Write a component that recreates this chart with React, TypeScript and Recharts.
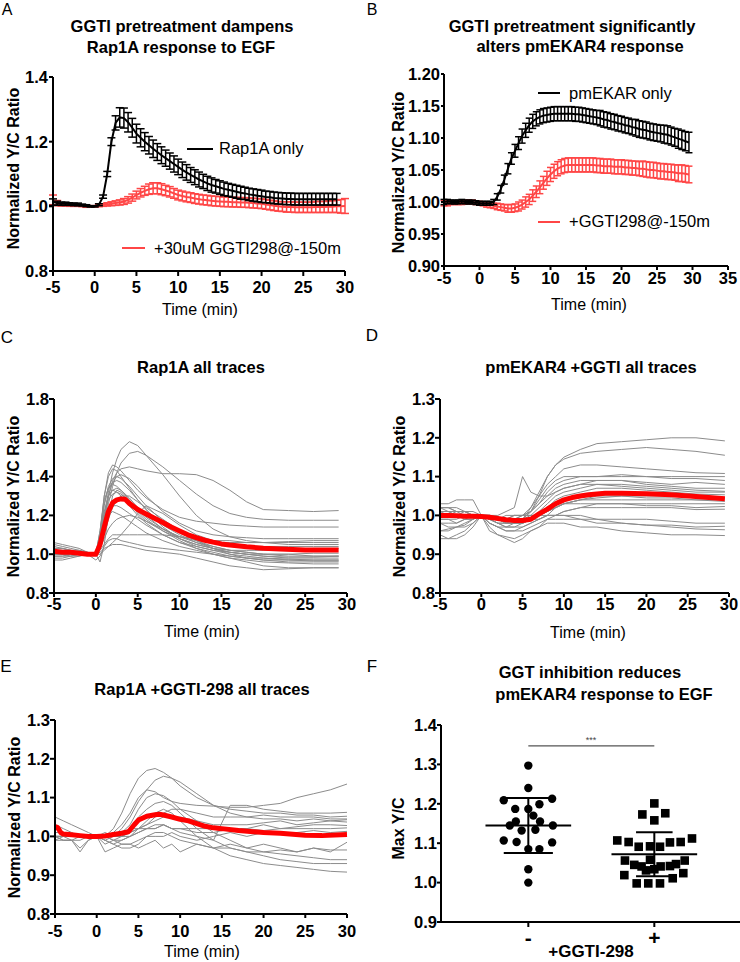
import React from 'react';
import { LineChart, Line, XAxis, YAxis, ErrorBar, ScatterChart, Scatter, ReferenceLine } from 'recharts';

const FONT = '"Liberation Sans", Arial, Helvetica, sans-serif';
const RED_SEM = '#ff4646';
const RED_MEAN = '#ff0000';
const GREY = '#8c8c8c';

// ---------- Panel A & B: time points (min) ----------
const tHalf = [-5, -4.5, -4, -3.5, -3, -2.5, -2, -1.5, -1, -0.5, 0, 0.5, 1, 1.5, 2, 2.5, 3, 3.5, 4, 4.5, 5, 5.5, 6, 6.5, 7, 7.5, 8, 8.5, 9, 9.5, 10, 10.5, 11, 11.5, 12, 12.5, 13, 13.5, 14, 14.5, 15, 15.5, 16, 16.5, 17, 17.5, 18, 18.5, 19, 19.5, 20, 20.5, 21, 21.5, 22, 22.5, 23, 23.5, 24, 24.5, 25, 25.5, 26, 26.5, 27, 27.5, 28, 28.5, 29, 29.5, 30];

// Panel A: Rap1A only (mean, SEM)
const aRap1A = [1.013, 1.01, 1.008, 1.008, 1.007, 1.006, 1.006, 1.004, 1.002, 1.0, 1.0,
  1.005, 1.03, 1.1, 1.2, 1.258, 1.275, 1.273, 1.26, 1.243,
  1.225, 1.212, 1.2, 1.189, 1.178, 1.168, 1.158, 1.149, 1.14, 1.131,
  1.122, 1.113, 1.105, 1.097, 1.09, 1.083, 1.077, 1.071, 1.066, 1.062,
  1.058, 1.054, 1.051, 1.048, 1.045, 1.042, 1.04, 1.037, 1.035, 1.033,
  1.031, 1.029, 1.028, 1.026, 1.025, 1.024, 1.023, 1.023,
  1.022, 1.022, 1.022, 1.022, 1.022, 1.022, 1.022, 1.022, 1.022, 1.022, 1.022];
const aRap1AErr = [0.01, 0.006, 0.005, 0.005, 0.004, 0.004, 0.004, 0.003, 0.003, 0.002, 0.002,
  0.003, 0.005, 0.008, 0.012, 0.022, 0.03, 0.031, 0.03, 0.029,
  0.029, 0.028, 0.028, 0.027, 0.027, 0.026, 0.026, 0.025, 0.025, 0.025,
  0.024, 0.024, 0.024, 0.023, 0.023, 0.023, 0.022, 0.022, 0.022, 0.021,
  0.021, 0.021, 0.02, 0.02, 0.02, 0.02, 0.019, 0.019, 0.019, 0.019,
  0.019, 0.018, 0.018, 0.018, 0.018, 0.018, 0.018, 0.018,
  0.018, 0.018, 0.018, 0.018, 0.018, 0.018, 0.018, 0.018, 0.018, 0.018, 0.018];
// Panel A: +30uM GGTI298
const aGgti = [1.02, 1.01, 1.006, 1.005, 1.004, 1.004, 1.003, 1.002, 1.0, 1.0, 1.0,
  1.002, 1.004, 1.006, 1.008, 1.01, 1.012, 1.015, 1.02, 1.027, 1.035,
  1.042, 1.048, 1.053, 1.056, 1.056, 1.053, 1.049, 1.045, 1.04, 1.035,
  1.032, 1.029, 1.027, 1.024, 1.022, 1.02, 1.019, 1.017, 1.016, 1.015,
  1.014, 1.014, 1.013, 1.013, 1.012, 1.012, 1.011, 1.01, 1.009, 1.008,
  1.006, 1.004, 1.002, 1.0, 0.999, 0.998, 0.998, 0.997, 0.997, 0.997,
  0.997, 0.997, 0.998, 0.998, 0.998, 0.999, 0.999, 1.0, 1.0, 1.001];
const aGgtiErr = [0.015, 0.008, 0.005, 0.004, 0.004, 0.004, 0.003, 0.003, 0.003, 0.002, 0.002,
  0.003, 0.004, 0.005, 0.006, 0.007, 0.008, 0.009, 0.01, 0.011, 0.012,
  0.013, 0.014, 0.016, 0.017, 0.017, 0.017, 0.016, 0.016, 0.015, 0.015,
  0.015, 0.015, 0.015, 0.015, 0.015, 0.015, 0.015, 0.015, 0.015, 0.015,
  0.015, 0.015, 0.015, 0.015, 0.015, 0.015, 0.015, 0.015, 0.015, 0.015,
  0.015, 0.015, 0.015, 0.015, 0.015, 0.016, 0.016, 0.016, 0.016, 0.016,
  0.016, 0.016, 0.017, 0.017, 0.017, 0.018, 0.018, 0.019, 0.021, 0.023];

// Panel B: pmEKAR only
const bPmekar = [1.0, 1.001, 1.0, 1.0, 1.0, 1.001, 1.0, 1.0, 1.0, 0.999, 0.998,
  0.998, 0.998, 0.998, 1.0, 1.008, 1.02, 1.035, 1.052, 1.068, 1.08,
  1.092, 1.103, 1.112, 1.12, 1.126, 1.13, 1.133, 1.135, 1.136, 1.137,
  1.138, 1.138, 1.138, 1.138, 1.138, 1.138, 1.137, 1.137, 1.136, 1.135,
  1.134, 1.133, 1.132, 1.131, 1.129, 1.128, 1.126, 1.125, 1.123, 1.122,
  1.12, 1.119, 1.117, 1.116, 1.114, 1.113, 1.112, 1.11, 1.109, 1.108,
  1.107, 1.106, 1.105, 1.103, 1.101, 1.099, 1.097, 1.095, 1.093];
const bPmekarErr = [0.004, 0.003, 0.003, 0.003, 0.003, 0.003, 0.003, 0.003, 0.003, 0.003, 0.003,
  0.003, 0.003, 0.003, 0.004, 0.005, 0.006, 0.007, 0.008, 0.009, 0.01,
  0.01, 0.011, 0.011, 0.011, 0.011, 0.011, 0.011, 0.011, 0.011, 0.011,
  0.011, 0.011, 0.011, 0.011, 0.011, 0.011, 0.011, 0.011, 0.011, 0.011,
  0.011, 0.011, 0.011, 0.012, 0.012, 0.012, 0.012, 0.012, 0.012, 0.012,
  0.012, 0.012, 0.012, 0.013, 0.013, 0.013, 0.013, 0.013, 0.013, 0.013,
  0.013, 0.014, 0.014, 0.014, 0.014, 0.015, 0.015, 0.015, 0.016];
// Panel B: +GGTI298
const bGgti = [0.998, 0.998, 0.999, 0.999, 0.999, 0.999, 1.0, 1.0, 1.0, 0.999, 0.998,
  0.997, 0.996, 0.995, 0.994, 0.993, 0.992, 0.991, 0.99, 0.99, 0.991,
  0.993, 0.996, 1.0, 1.004, 1.01, 1.016, 1.023, 1.03, 1.037, 1.043,
  1.048, 1.052, 1.055, 1.057, 1.058, 1.058, 1.058, 1.058, 1.058, 1.058,
  1.058, 1.058, 1.057, 1.057, 1.056, 1.056, 1.056, 1.055, 1.055, 1.055,
  1.054, 1.054, 1.053, 1.053, 1.052, 1.052, 1.051, 1.05, 1.05, 1.049,
  1.048, 1.048, 1.047, 1.047, 1.046, 1.045, 1.045, 1.044, 1.043];
const bGgtiErr = [0.004, 0.004, 0.003, 0.003, 0.003, 0.003, 0.003, 0.003, 0.003, 0.003, 0.003,
  0.003, 0.004, 0.004, 0.004, 0.005, 0.005, 0.005, 0.006, 0.006, 0.006,
  0.007, 0.007, 0.008, 0.008, 0.009, 0.009, 0.01, 0.01, 0.011, 0.011,
  0.011, 0.011, 0.011, 0.011, 0.011, 0.011, 0.011, 0.011, 0.011, 0.011,
  0.011, 0.011, 0.011, 0.011, 0.011, 0.011, 0.011, 0.011, 0.011, 0.011,
  0.011, 0.011, 0.011, 0.011, 0.011, 0.012, 0.012, 0.012, 0.012, 0.012,
  0.012, 0.012, 0.012, 0.012, 0.012, 0.013, 0.013, 0.013, 0.013];

// ---------- Panel C: Rap1A all traces ----------
const tC = [-5, -4, -3, -2, -1, 0, 0.5, 1, 1.5, 2, 2.5, 3, 4, 5, 6, 8, 10, 12, 14, 16, 18, 20, 23, 26, 29];
const cTraces = [
  [1.02, 1.02, 1.01, 1.01, 1.0, 1.0, 1.08, 1.2, 1.32, 1.42, 1.49, 1.54, 1.58, 1.56, 1.51, 1.41, 1.30, 1.20, 1.13, 1.09, 1.07, 1.06, 1.05, 1.05, 1.05],
  [1.04, 1.03, 1.02, 1.01, 1.0, 1.0, 1.05, 1.15, 1.26, 1.35, 1.42, 1.47, 1.52, 1.53, 1.51, 1.45, 1.38, 1.31, 1.25, 1.21, 1.19, 1.18, 1.175, 1.175, 1.175],
  [1.01, 1.01, 1.0, 1.0, 1.0, 1.0, 1.06, 1.18, 1.3, 1.38, 1.42, 1.44, 1.45, 1.44, 1.43, 1.415, 1.415, 1.41, 1.38, 1.33, 1.27, 1.23, 1.225, 1.22, 1.225],
  [1.0, 1.0, 1.0, 1.0, 1.0, 1.0, 1.1, 1.3, 1.42, 1.46, 1.45, 1.43, 1.38, 1.33, 1.29, 1.23, 1.19, 1.17, 1.16, 1.15, 1.145, 1.14, 1.14, 1.14, 1.14],
  [1.05, 1.04, 1.03, 1.02, 1.01, 1.0, 1.12, 1.3, 1.4, 1.44, 1.43, 1.4, 1.34, 1.28, 1.23, 1.15, 1.1, 1.06, 1.03, 1.01, 1.0, 0.99, 0.98, 0.98, 0.98],
  [1.0, 1.0, 1.0, 1.0, 1.0, 1.0, 1.08, 1.25, 1.35, 1.39, 1.4, 1.39, 1.35, 1.3, 1.25, 1.17, 1.11, 1.07, 1.04, 1.02, 1.01, 1.0, 1.0, 0.99, 0.99],
  [1.06, 1.05, 1.04, 1.03, 1.01, 1.0, 1.1, 1.26, 1.34, 1.37, 1.38, 1.37, 1.33, 1.28, 1.23, 1.14, 1.08, 1.04, 1.02, 1.0, 0.99, 0.98, 0.97, 0.97, 0.97],
  [0.98, 0.98, 0.99, 1.0, 1.0, 1.0, 1.12, 1.28, 1.34, 1.36, 1.35, 1.33, 1.28, 1.23, 1.19, 1.13, 1.09, 1.07, 1.06, 1.06, 1.06, 1.06, 1.065, 1.07, 1.07],
  [1.0, 1.01, 1.01, 1.01, 1.0, 1.0, 1.06, 1.2, 1.3, 1.33, 1.34, 1.33, 1.29, 1.24, 1.2, 1.13, 1.08, 1.05, 1.03, 1.02, 1.02, 1.02, 1.02, 1.03, 1.03],
  [1.03, 1.03, 1.02, 1.01, 1.0, 1.0, 1.08, 1.2, 1.28, 1.31, 1.32, 1.31, 1.27, 1.22, 1.18, 1.12, 1.07, 1.03, 1.0, 0.98, 0.97, 0.96, 0.955, 0.95, 0.95],
  [1.0, 1.0, 0.99, 0.99, 1.0, 1.0, 1.03, 1.1, 1.18, 1.24, 1.28, 1.3, 1.3, 1.27, 1.24, 1.18, 1.12, 1.07, 1.03, 1.0, 0.98, 0.97, 0.97, 0.965, 0.965],
  [1.01, 1.01, 1.0, 1.0, 1.0, 1.0, 1.06, 1.16, 1.22, 1.25, 1.25, 1.24, 1.21, 1.18, 1.15, 1.1, 1.06, 1.03, 1.01, 0.99, 0.98, 0.97, 0.96, 0.96, 0.96],
  [0.97, 0.97, 0.98, 0.99, 1.0, 1.0, 1.05, 1.14, 1.2, 1.22, 1.21, 1.2, 1.17, 1.14, 1.11, 1.07, 1.04, 1.02, 1.0, 0.98, 0.96, 0.94, 0.93, 0.93, 0.93],
  [1.02, 1.01, 1.01, 1.0, 1.0, 1.0, 1.0, 1.02, 1.04, 1.06, 1.08, 1.1, 1.15, 1.21, 1.25, 1.21, 1.15, 1.1, 1.07, 1.05, 1.04, 1.04, 1.04, 1.04, 1.04],
  [0.99, 0.99, 1.0, 1.0, 1.0, 1.0, 1.03, 1.08, 1.13, 1.16, 1.18, 1.19, 1.2, 1.19, 1.17, 1.13, 1.09, 1.06, 1.04, 1.02, 1.01, 1.0, 0.99, 0.99, 0.99],
  [1.0, 1.0, 1.0, 1.0, 1.0, 1.0, 1.02, 1.05, 1.08, 1.1, 1.1, 1.1, 1.1, 1.1, 1.1, 1.1, 1.09, 1.08, 1.07, 1.07, 1.06, 1.06, 1.06, 1.06, 1.06],
  [1.0, 1.0, 1.0, 1.0, 1.0, 1.0, 1.01, 1.03, 1.04, 1.05, 1.05, 1.05, 1.04, 1.03, 1.02, 1.01, 1.0, 0.98, 0.96, 0.94, 0.93, 0.92, 0.925, 0.93, 0.93],
  [1.02, 1.02, 1.01, 1.01, 1.0, 0.97, 0.99, 1.04, 1.07, 1.08, 1.08, 1.07, 1.06, 1.05, 1.04, 1.03, 1.02, 1.01, 1.0, 0.99, 0.98, 0.98, 0.975, 0.97, 0.97],
  [1.03, 1.03, 1.02, 1.02, 1.01, 1.0, 0.96, 1.05, 1.2, 1.3, 1.33, 1.32, 1.27, 1.21, 1.17, 1.12, 1.08, 1.05, 1.03, 1.01, 1.0, 0.99, 0.985, 0.985, 0.99],
  [1.0, 1.0, 1.0, 1.0, 1.0, 1.0, 1.05, 1.17, 1.3, 1.37, 1.4, 1.41, 1.39, 1.35, 1.3, 1.22, 1.16, 1.12, 1.1, 1.09, 1.085, 1.08, 1.08, 1.08, 1.08],
  [0.99, 0.99, 0.99, 1.0, 1.0, 1.0, 1.08, 1.22, 1.3, 1.33, 1.32, 1.3, 1.25, 1.2, 1.16, 1.1, 1.06, 1.04, 1.02, 1.01, 1.0, 1.0, 1.0, 1.005, 1.005],
];
const tCMean = [-5, -4, -3, -2, -1, 0, 0.5, 1, 1.5, 2, 2.5, 3, 3.5, 4, 5, 6, 7, 8, 9, 10, 11, 12, 13, 14, 15, 16, 18, 20, 22, 25, 29];
const cMean = [1.015, 1.01, 1.01, 1.005, 1.0, 1.0, 1.05, 1.14, 1.22, 1.265, 1.28, 1.285, 1.283, 1.262, 1.23, 1.207, 1.185, 1.163, 1.14, 1.12, 1.1, 1.085, 1.072, 1.062, 1.053, 1.047, 1.038, 1.031, 1.027, 1.022, 1.022];

// ---------- Panel D: pmEKAR4 +GGTI all traces ----------
const tD = [-5, -4, -3, -2, -1, 0, 1, 2, 3, 4, 5, 6, 7, 8, 9, 10, 12, 14, 17, 20, 23, 26, 29.5];
const dTraces = [
  [1.01, 1.01, 1.0, 1.01, 1.0, 1.0, 0.99, 0.99, 0.98, 0.98, 0.99, 1.01, 1.05, 1.1, 1.13, 1.15, 1.17, 1.185, 1.19, 1.195, 1.2, 1.2, 1.192],
  [1.0, 1.0, 1.01, 1.0, 1.0, 1.0, 0.99, 0.98, 0.98, 0.98, 0.99, 1.02, 1.06, 1.1, 1.13, 1.145, 1.16, 1.165, 1.17, 1.175, 1.17, 1.165, 1.155],
  [1.02, 1.02, 1.01, 1.01, 1.0, 1.0, 0.99, 0.99, 0.99, 1.0, 1.0, 1.02, 1.05, 1.08, 1.1, 1.12, 1.13, 1.13, 1.125, 1.12, 1.115, 1.11, 1.108],
  [0.99, 0.99, 0.99, 1.0, 1.0, 1.0, 1.0, 0.99, 0.99, 0.99, 1.0, 1.01, 1.03, 1.06, 1.08, 1.09, 1.1, 1.1, 1.1, 1.1, 1.095, 1.095, 1.09],
  [1.02, 1.02, 1.01, 1.01, 1.0, 1.0, 1.0, 1.0, 1.01, 1.02, 1.1, 1.06, 1.05, 1.05, 1.06, 1.07, 1.08, 1.09, 1.09, 1.085, 1.08, 1.085, 1.08],
  [1.03, 1.03, 1.04, 1.04, 1.04, 1.0, 1.0, 0.99, 0.99, 1.0, 1.0, 1.01, 1.03, 1.05, 1.07, 1.08, 1.09, 1.09, 1.09, 1.08, 1.075, 1.07, 1.07],
  [0.98, 0.98, 0.98, 0.99, 0.99, 1.0, 0.99, 0.98, 0.97, 0.97, 0.98, 0.99, 1.01, 1.03, 1.05, 1.06, 1.07, 1.08, 1.08, 1.075, 1.07, 1.065, 1.062],
  [1.0, 1.0, 1.0, 1.0, 1.0, 1.0, 0.99, 0.99, 0.98, 0.98, 0.98, 0.99, 1.0, 1.02, 1.04, 1.05, 1.06, 1.07, 1.07, 1.065, 1.06, 1.055, 1.053],
  [0.96, 0.96, 0.97, 0.97, 0.98, 1.0, 0.98, 0.97, 0.96, 0.96, 0.97, 0.98, 0.99, 1.0, 1.02, 1.03, 1.04, 1.05, 1.05, 1.05, 1.05, 1.045, 1.044],
  [1.01, 1.01, 1.0, 1.0, 1.0, 1.0, 1.0, 0.99, 0.99, 0.99, 0.99, 1.0, 1.0, 1.01, 1.02, 1.03, 1.04, 1.045, 1.05, 1.045, 1.045, 1.04, 1.04],
  [0.99, 0.99, 0.98, 0.99, 0.99, 1.0, 0.98, 0.97, 0.97, 0.98, 0.98, 0.99, 1.0, 1.01, 1.02, 1.03, 1.04, 1.04, 1.04, 1.04, 1.04, 1.04, 1.036],
  [0.94, 0.94, 0.95, 0.96, 0.98, 1.0, 0.97, 0.95, 0.94, 0.93, 0.94, 0.96, 0.97, 0.99, 1.0, 1.01, 1.02, 1.03, 1.03, 1.03, 1.03, 1.03, 1.03],
  [1.02, 1.02, 1.02, 1.01, 1.01, 1.0, 0.99, 0.99, 1.0, 1.0, 1.0, 1.0, 1.0, 1.01, 1.02, 1.03, 1.03, 1.03, 1.03, 1.025, 1.025, 1.02, 1.023],
  [0.98, 0.97, 0.97, 0.98, 0.99, 1.0, 0.99, 0.99, 0.98, 0.98, 0.98, 0.99, 0.99, 1.0, 1.0, 1.01, 1.02, 1.02, 1.02, 1.02, 1.02, 1.015, 1.016],
  [1.0, 1.0, 1.0, 1.0, 1.0, 1.0, 1.0, 0.99, 0.98, 0.98, 0.98, 0.99, 1.0, 1.0, 1.0, 1.0, 1.0, 0.99, 0.99, 0.99, 0.985, 0.98, 0.98],
  [0.96, 0.965, 0.97, 0.975, 0.99, 1.0, 0.98, 0.97, 0.96, 0.96, 0.96, 0.97, 0.98, 0.99, 0.99, 0.99, 0.99, 0.98, 0.98, 0.975, 0.975, 0.97, 0.972],
  [1.01, 1.0, 1.0, 1.0, 1.0, 1.0, 0.99, 0.98, 0.97, 0.97, 0.97, 0.98, 0.99, 1.0, 1.0, 1.0, 0.99, 0.99, 0.98, 0.975, 0.97, 0.965, 0.963],
  [0.95, 0.94, 0.94, 0.95, 0.97, 1.0, 0.96, 0.95, 0.945, 0.94, 0.95, 0.96, 0.97, 0.98, 0.98, 0.98, 0.97, 0.97, 0.96, 0.955, 0.95, 0.95, 0.948],
  [1.02, 1.01, 1.01, 1.01, 1.0, 1.0, 1.0, 0.99, 0.99, 0.99, 1.0, 1.0, 1.02, 1.04, 1.06, 1.07, 1.08, 1.08, 1.075, 1.07, 1.065, 1.06, 1.06],
  [1.0, 1.0, 1.0, 0.99, 1.0, 1.0, 0.99, 0.98, 0.98, 0.99, 0.99, 1.01, 1.04, 1.07, 1.09, 1.1, 1.1, 1.1, 1.105, 1.1, 1.1, 1.1, 1.1],
];
const tDMean = [-5, -4, -3, -2, -1, 0, 1, 2, 3, 4, 5, 6, 7, 8, 9, 10, 11, 12, 13, 14, 15, 17, 20, 23, 26, 29.5];
const dMean = [1.0, 1.0, 0.999, 0.998, 0.998, 0.997, 0.995, 0.992, 0.989, 0.987, 0.987, 0.99, 1.004, 1.016, 1.03, 1.04, 1.046, 1.05, 1.053, 1.055, 1.057, 1.057, 1.056, 1.053, 1.049, 1.043];

// ---------- Panel E: Rap1A +GGTI-298 all traces ----------
const tE = [-5, -4, -3, -2, -1, 0, 1, 2, 3, 4, 5, 6, 7, 8, 9, 10, 12, 14, 16, 18, 20, 22, 24, 26, 28, 30];
const eTraces = [
  [1.0, 1.0, 1.0, 1.0, 1.0, 1.0, 1.0, 1.02, 1.06, 1.11, 1.15, 1.17, 1.175, 1.165, 1.15, 1.13, 1.1, 1.08, 1.07, 1.065, 1.06, 1.06, 1.055, 1.055, 1.05, 1.052],
  [1.01, 1.01, 1.0, 1.0, 1.0, 1.0, 0.99, 1.0, 1.02, 1.05, 1.09, 1.12, 1.145, 1.155, 1.15, 1.14, 1.11, 1.08, 1.06, 1.05, 1.045, 1.045, 1.04, 1.045, 1.04, 1.043],
  [1.05, 1.04, 1.03, 1.02, 1.01, 1.0, 1.0, 1.01, 1.03, 1.06, 1.1, 1.12, 1.115, 1.1, 1.09, 1.085, 1.08, 1.078, 1.075, 1.075, 1.08, 1.085, 1.1, 1.11, 1.12, 1.135],
  [1.0, 1.0, 0.99, 0.99, 1.0, 1.0, 1.0, 1.0, 1.01, 1.03, 1.07, 1.1, 1.11, 1.105, 1.09, 1.07, 1.04, 1.01, 0.99, 0.97, 0.96, 0.955, 0.95, 0.945, 0.94, 0.94],
  [1.0, 1.0, 1.0, 1.0, 1.0, 1.0, 0.98, 0.99, 1.0, 1.02, 1.05, 1.07, 1.085, 1.09, 1.08, 1.06, 1.02, 0.99, 0.97, 0.96, 0.95, 0.94, 0.935, 0.93, 0.93, 0.93],
  [1.02, 1.01, 1.0, 1.0, 1.0, 1.0, 1.0, 1.0, 1.0, 1.0, 1.01, 1.02, 1.03, 1.03, 1.02, 1.01, 1.0, 0.99, 1.08, 1.08, 1.07, 1.065, 1.06, 1.06, 1.06, 1.062],
  [0.99, 1.0, 1.0, 1.0, 1.0, 1.0, 1.0, 1.0, 1.0, 1.01, 1.02, 1.03, 1.04, 1.05, 1.05, 1.05, 1.04, 1.03, 1.03, 1.03, 1.035, 1.04, 1.03, 1.035, 1.04, 1.037],
  [1.0, 0.99, 0.99, 1.0, 1.0, 1.0, 0.99, 0.98, 0.99, 1.0, 1.01, 1.02, 1.02, 1.03, 1.02, 1.02, 1.02, 1.02, 1.02, 1.02, 1.03, 1.02, 1.025, 1.03, 1.03, 1.028],
  [1.03, 1.02, 1.01, 1.0, 1.0, 1.0, 1.0, 1.01, 1.01, 1.02, 1.02, 1.02, 1.02, 1.03, 1.02, 1.02, 1.01, 1.01, 1.02, 1.02, 1.015, 1.02, 1.02, 1.02, 1.02, 1.022],
  [0.99, 0.99, 0.99, 0.97, 0.99, 1.0, 0.96, 0.97, 0.98, 0.98, 0.99, 1.0, 1.0, 1.0, 1.01, 1.0, 0.99, 1.0, 1.01, 1.0, 1.01, 1.01, 1.01, 1.015, 1.01, 1.013],
  [1.0, 1.0, 1.0, 1.0, 1.0, 1.0, 1.0, 0.99, 0.98, 0.98, 0.97, 0.98, 0.99, 0.97, 0.98, 0.96, 0.98, 0.97, 0.98, 0.97, 0.98, 0.97, 0.96, 0.97, 0.96, 0.985],
  [1.0, 1.0, 1.0, 1.0, 1.0, 1.0, 0.99, 0.98, 0.97, 0.97, 0.98, 1.0, 1.01, 1.01, 1.0, 0.99, 0.98, 0.97, 0.97, 0.96, 0.96, 0.965, 0.96, 0.97, 0.965, 0.965],
  [1.0, 0.99, 0.99, 0.96, 0.99, 1.0, 1.0, 0.99, 0.99, 1.0, 1.02, 1.04, 1.06, 1.07, 1.06, 1.04, 1.0, 0.97, 0.95, 0.94, 0.93, 0.925, 0.92, 0.915, 0.91, 0.908],
  [1.01, 1.01, 1.0, 1.0, 1.0, 1.0, 1.01, 1.0, 1.0, 1.01, 1.02, 1.03, 1.05, 1.06, 1.07, 1.07, 1.06, 1.05, 1.05, 1.05, 1.055, 1.05, 1.05, 1.05, 1.045, 1.045],
];
const tEMean = [-5, -4.7, -4.3, -4, -3, -2, -1, 0, 1, 2, 3, 3.8, 4.5, 5, 6, 7, 7.5, 8, 9, 10, 11, 12, 13, 14, 15, 17, 20, 22, 25, 27, 30];
const eMean = [1.025, 1.023, 1.01, 1.006, 1.004, 1.002, 1.0, 1.0, 1.001, 1.005, 1.008, 1.012, 1.03, 1.042, 1.052, 1.056, 1.057, 1.055, 1.05, 1.044, 1.04, 1.033, 1.026, 1.022, 1.02, 1.015, 1.01, 1.008, 1.003, 1.002, 1.005];

// ---------- Panel F: Max Y/C per cell ----------
const fGroups = [0, 1]; // "-" and "+" GGTI-298
const fMinusJitter = [0, 0, -0.195, 0.189, -0.104, 0.088, 0, 0.04, -0.099, -0.147, 0.093, -0.053, 0.056, 0.195, -0.195, -0.093, 0.189, 0, 0.088, 0, 0];
const fMinusY = [1.297, 1.24, 1.209, 1.213, 1.187, 1.199, 1.187, 1.17, 1.155, 1.145, 1.155, 1.132, 1.134, 1.145, 1.107, 1.103, 1.102, 1.085, 1.085, 1.034, 1.0];
const fPlusJitter = [0, -0.095, 0.087, 0, -0.294, -0.204, -0.124, -0.034, 0.045, 0.124, 0.209, 0.299, -0.233, -0.159, -0.101, -0.034, 0, 0.05, 0.124, 0.172, 0.241, -0.238, -0.14, -0.048, 0.045, 0.146, 0.23, -0.066];
const fPlusY = [1.201, 1.173, 1.176, 1.158, 1.107, 1.103, 1.091, 1.092, 1.091, 1.102, 1.103, 1.112, 1.056, 1.045, 1.041, 1.058, 1.034, 1.041, 1.042, 1.047, 1.056, 1.019, 0.998, 0.998, 0.998, 1.011, 1.024, 1.031];
const fMean = [1.145, 1.072];
const fSD = [0.07, 0.056];
const fSig = 1.347;

// ---------- helpers ----------
const series = (ts: number[], vs: number[], es?: number[]) =>
  vs.map((v, i) => ({ t: ts[i], v, e: es ? es[i] : 0 }));

const axisLine = { stroke: '#000', strokeWidth: 2 };
const tickLine = { stroke: '#000', strokeWidth: 2 };
const tickStyle = { fill: '#000', fontSize: 16.5, fontWeight: 700, fontFamily: FONT };
const timeTicks = [-5, 0, 5, 10, 15, 20, 25, 30];

function Txt({ x, y, children, size = 16, bold = false, anchor = 'middle', rotate = false, color = '#000', lh }: any) {
  const L = lh || Math.round(size * 1.3);
  const base: any = {
    position: 'absolute', top: y - L / 2, height: L, lineHeight: L + 'px', fontSize: size,
    fontWeight: bold ? 700 : 400, fontFamily: FONT, whiteSpace: 'nowrap', color,
  };
  if (rotate) {
    return <div style={{ ...base, left: x - 150, width: 300, textAlign: 'center', transform: 'rotate(-90deg)' }}>{children}</div>;
  }
  if (anchor === 'start') return <div style={{ ...base, left: x }}>{children}</div>;
  return <div style={{ ...base, left: x - 200, width: 400, textAlign: 'center' }}>{children}</div>;
}

function LegendLine({ x1, x2, y, color }: any) {
  return <div style={{ position: 'absolute', left: x1, top: y - 1, width: x2 - x1, height: 2, background: color }} />;
}

function Box({ left, top, children }: any) {
  return <div style={{ position: 'absolute', left, top }}>{children}</div>;
}

function TracePanel({ left, top, width, height, margin, yW, xH, yDomain, yTicks, yFmt, xTickMargin, ts, traces, tMean, mean }: any) {
  return (
    <Box left={left} top={top}>
      <LineChart width={width} height={height} margin={margin}>
        <XAxis type="number" dataKey="t" domain={[-5, 30]} ticks={timeTicks} interval={0} height={xH}
          axisLine={axisLine} tickLine={tickLine} tick={tickStyle} tickSize={4} tickMargin={xTickMargin} />
        <YAxis type="number" domain={yDomain} ticks={yTicks} interval={0} width={yW} tickFormatter={yFmt}
          axisLine={axisLine} tickLine={tickLine} tick={tickStyle} tickSize={5} tickMargin={0} />
        {traces.map((tr: number[], i: number) => (
          <Line key={i} data={series(ts, tr)} dataKey="v" stroke={GREY} strokeWidth={1} dot={false}
            isAnimationActive={false} />
        ))}
        <Line data={series(tMean, mean)} dataKey="v" stroke={RED_MEAN} strokeWidth={5} dot={false}
          strokeLinejoin="round" isAnimationActive={false} />
      </LineChart>
    </Box>
  );
}

const circleShape = (p: any) => <circle cx={p.cx} cy={p.cy} r={4.2} fill="#000" />;
const squareShape = (p: any) => <rect x={p.cx - 4.3} y={p.cy - 4.3} width={8.6} height={8.6} fill="#000" />;

export default function App() {
  const aBlack = series(tHalf, aRap1A, aRap1AErr);
  const aRed = series(tHalf, aGgti, aGgtiErr);
  const bBlack = series(tHalf, bPmekar, bPmekarErr);
  const bRed = series(tHalf, bGgti, bGgtiErr);
  const fMinus = fMinusY.map((y, i) => ({ x: fGroups[0] + fMinusJitter[i], y }));
  const fPlus = fPlusY.map((y, i) => ({ x: fGroups[1] + fPlusJitter[i], y }));
  const capW = [0.195, 0.145];

  return (
    <div style={{ position: 'absolute', left: 0, top: 0, width: 740, height: 962, background: '#fff', overflow: 'hidden', fontFamily: FONT }}>
      {/* ---------- Panel A ---------- */}
      <Box left={0} top={60}>
        <LineChart width={360} height={245} margin={{ top: 17, right: 15, left: 0, bottom: 0 }}>
          <XAxis type="number" dataKey="t" domain={[-5, 30]} ticks={timeTicks} interval={0} height={34}
            axisLine={axisLine} tickLine={tickLine} tick={tickStyle} tickSize={5} tickMargin={5} />
          <YAxis type="number" domain={[0.8, 1.4]} ticks={[0.8, 1.0, 1.2, 1.4]} interval={0} width={53}
            tickFormatter={(v: number) => v.toFixed(1)}
            axisLine={axisLine} tickLine={tickLine} tick={tickStyle} tickSize={4} tickMargin={1} />
          <Line data={aRed} dataKey="v" stroke={RED_SEM} strokeWidth={2} dot={false} isAnimationActive={false}>
            <ErrorBar dataKey="e" width={4} stroke={RED_SEM} strokeWidth={1.5} direction="y" />
          </Line>
          <Line data={aBlack} dataKey="v" stroke="#000" strokeWidth={2} dot={false} isAnimationActive={false}>
            <ErrorBar dataKey="e" width={4} stroke="#000" strokeWidth={1.5} direction="y" />
          </Line>
        </LineChart>
      </Box>
      <Txt x={7} y={10} size={16} lh={20}>A</Txt>
      <Txt x={182} y={26} size={16.5} bold>GGTI pretreatment dampens</Txt>
      <Txt x={181} y={47.5} size={16.5} bold>Rap1A response to EGF</Txt>
      <Txt x={13} y={168} size={16} bold rotate>Normalized Y/C Ratio</Txt>
      <Txt x={200} y={309} size={16}>Time (min)</Txt>
      <LegendLine x1={187} x2={213} y={149} color="#000" />
      <Txt x={219} y={148.5} size={16.5} anchor="start">Rap1A only</Txt>
      <LegendLine x1={122} x2={145} y={248} color={RED_SEM} />
      <Txt x={154} y={248} size={16.5} anchor="start">+30uM GGTI298@-150m</Txt>

      {/* ---------- Panel B ---------- */}
      <Box left={380} top={60}>
        <LineChart width={360} height={240} margin={{ top: 14, right: 12, left: 0, bottom: 0 }}>
          <XAxis type="number" dataKey="t" domain={[-5, 35]} ticks={[-5, 0, 5, 10, 15, 20, 25, 30, 35]} interval={0} height={34}
            axisLine={axisLine} tickLine={tickLine} tick={tickStyle} tickSize={4} tickMargin={2} />
          <YAxis type="number" domain={[0.9, 1.2]} ticks={[0.9, 0.95, 1.0, 1.05, 1.1, 1.15, 1.2]} interval={0} width={64}
            tickFormatter={(v: number) => v.toFixed(2)}
            axisLine={axisLine} tickLine={tickLine} tick={tickStyle} tickSize={3} tickMargin={1} />
          <Line data={bRed} dataKey="v" stroke={RED_SEM} strokeWidth={2} dot={false} isAnimationActive={false}>
            <ErrorBar dataKey="e" width={3.5} stroke={RED_SEM} strokeWidth={1.5} direction="y" />
          </Line>
          <Line data={bBlack} dataKey="v" stroke="#000" strokeWidth={2} dot={false} isAnimationActive={false}>
            <ErrorBar dataKey="e" width={3.5} stroke="#000" strokeWidth={1.5} direction="y" />
          </Line>
        </LineChart>
      </Box>
      <Txt x={372} y={10} size={16} lh={20}>B</Txt>
      <Txt x={572} y={26} size={16.5} bold>GGTI pretreatment significantly</Txt>
      <Txt x={580} y={46} size={16.5} bold>alters pmEKAR4 response</Txt>
      <Txt x={398} y={172} size={16} bold rotate>Normalized Y/C Ratio</Txt>
      <Txt x={589} y={304} size={16}>Time (min)</Txt>
      <LegendLine x1={538} x2={560} y={93} color="#000" />
      <Txt x={569} y={93.5} size={16.5} anchor="start">pmEKAR only</Txt>
      <LegendLine x1={538} x2={560} y={222} color={RED_SEM} />
      <Txt x={569} y={221.5} size={16.5} anchor="start">+GGTI298@-150m</Txt>

      {/* ---------- Panel C ---------- */}
      <TracePanel left={0} top={385} width={360} height={240} margin={{ top: 14, right: 13, left: 0, bottom: 0 }}
        yW={54} xH={32} yDomain={[0.8, 1.8]} yTicks={[0.8, 1.0, 1.2, 1.4, 1.6, 1.8]} yFmt={(v: number) => v.toFixed(1)}
        xTickMargin={1} ts={tC} traces={cTraces} tMean={tCMean} mean={cMean} />
      <Txt x={7} y={338} size={17} lh={20}>C</Txt>
      <Txt x={201} y={367} size={16.5} bold>Rap1A all traces</Txt>
      <Txt x={13} y={496} size={16} bold rotate>Normalized Y/C Ratio</Txt>
      <Txt x={202} y={631} size={16}>Time (min)</Txt>

      {/* ---------- Panel D ---------- */}
      <TracePanel left={380} top={385} width={360} height={240} margin={{ top: 14, right: 11, left: 0, bottom: 0 }}
        yW={60} xH={32} yDomain={[0.8, 1.3]} yTicks={[0.8, 0.9, 1.0, 1.1, 1.2, 1.3]} yFmt={(v: number) => v.toFixed(1)}
        xTickMargin={1} ts={tD} traces={dTraces} tMean={tDMean} mean={dMean} />
      <Txt x={372} y={336} size={17} lh={20}>D</Txt>
      <Txt x={591} y={367} size={16.5} bold>pmEKAR4 +GGTI all traces</Txt>
      <Txt x={399} y={496} size={16} bold rotate>Normalized Y/C Ratio</Txt>
      <Txt x={588} y={632} size={16}>Time (min)</Txt>

      {/* ---------- Panel E ---------- */}
      <TracePanel left={0} top={705} width={360} height={240} margin={{ top: 15, right: 13, left: 0, bottom: 0 }}
        yW={55} xH={31} yDomain={[0.8, 1.3]} yTicks={[0.8, 0.9, 1.0, 1.1, 1.2, 1.3]} yFmt={(v: number) => v.toFixed(1)}
        xTickMargin={7} ts={tE} traces={eTraces} tMean={tEMean} mean={eMean} />
      <Txt x={6} y={666.5} size={17} lh={20}>E</Txt>
      <Txt x={202} y={689} size={16.5} bold>Rap1A +GGTI-298 all traces</Txt>
      <Txt x={14} y={817} size={16} bold rotate>Normalized Y/C Ratio</Txt>
      <Txt x={202} y={952} size={16} lh={18}>Time (min)</Txt>

      {/* ---------- Panel F ---------- */}
      <Box left={380} top={710}>
        <ScatterChart width={360} height={250} margin={{ top: 15, right: 0, left: 0, bottom: 0 }}>
          <XAxis type="number" dataKey="x" domain={[-0.693, 1.68]} ticks={[0, 1]} interval={0} height={38}
            tickFormatter={(v: number) => (v === 0 ? '-' : '+')}
            axisLine={axisLine} tickLine={tickLine} tick={{ ...tickStyle, fontSize: 21 }} tickSize={5} tickMargin={3} />
          <YAxis type="number" dataKey="y" domain={[0.9, 1.4]} ticks={[0.9, 1.0, 1.1, 1.2, 1.3, 1.4]} interval={0} width={61}
            tickFormatter={(v: number) => v.toFixed(1)}
            axisLine={axisLine} tickLine={tickLine} tick={tickStyle} tickSize={4} tickMargin={0} />
          <Scatter data={fMinus} shape={circleShape} isAnimationActive={false} />
          <Scatter data={fPlus} shape={squareShape} isAnimationActive={false} />
          {fGroups.map((g, i) => (
            <ReferenceLine key={'m' + i} segment={[{ x: g - 0.34, y: fMean[i] }, { x: g + 0.34, y: fMean[i] }]} stroke="#000" strokeWidth={2} />
          ))}
          {fGroups.map((g, i) => (
            <ReferenceLine key={'u' + i} segment={[{ x: g - capW[i], y: fMean[i] + fSD[i] }, { x: g + capW[i], y: fMean[i] + fSD[i] }]} stroke="#000" strokeWidth={2} />
          ))}
          {fGroups.map((g, i) => (
            <ReferenceLine key={'l' + i} segment={[{ x: g - capW[i], y: fMean[i] - fSD[i] }, { x: g + capW[i], y: fMean[i] - fSD[i] }]} stroke="#000" strokeWidth={2} />
          ))}
          {fGroups.map((g, i) => (
            <ReferenceLine key={'v' + i} segment={[{ x: g, y: fMean[i] - fSD[i] }, { x: g, y: fMean[i] + fSD[i] }]} stroke="#000" strokeWidth={2} />
          ))}
          <ReferenceLine segment={[{ x: fGroups[0], y: fSig }, { x: fGroups[1], y: fSig }]} stroke="#555" strokeWidth={1.3} />
        </ScatterChart>
      </Box>
      <Txt x={372} y={666.5} size={17} lh={20}>F</Txt>
      <Txt x={590} y={672.5} size={16.5} bold>GGT inhibition reduces</Txt>
      <Txt x={604} y={694} size={16.5} bold>pmEKAR4 response to EGF</Txt>
      <Txt x={398} y={828} size={16} bold rotate>Max Y/C</Txt>
      <Txt x={591} y={952} size={17} bold lh={18}>+GGTI-298</Txt>
      <Txt x={591} y={740} size={9} color="#444">***</Txt>
    </div>
  );
}
